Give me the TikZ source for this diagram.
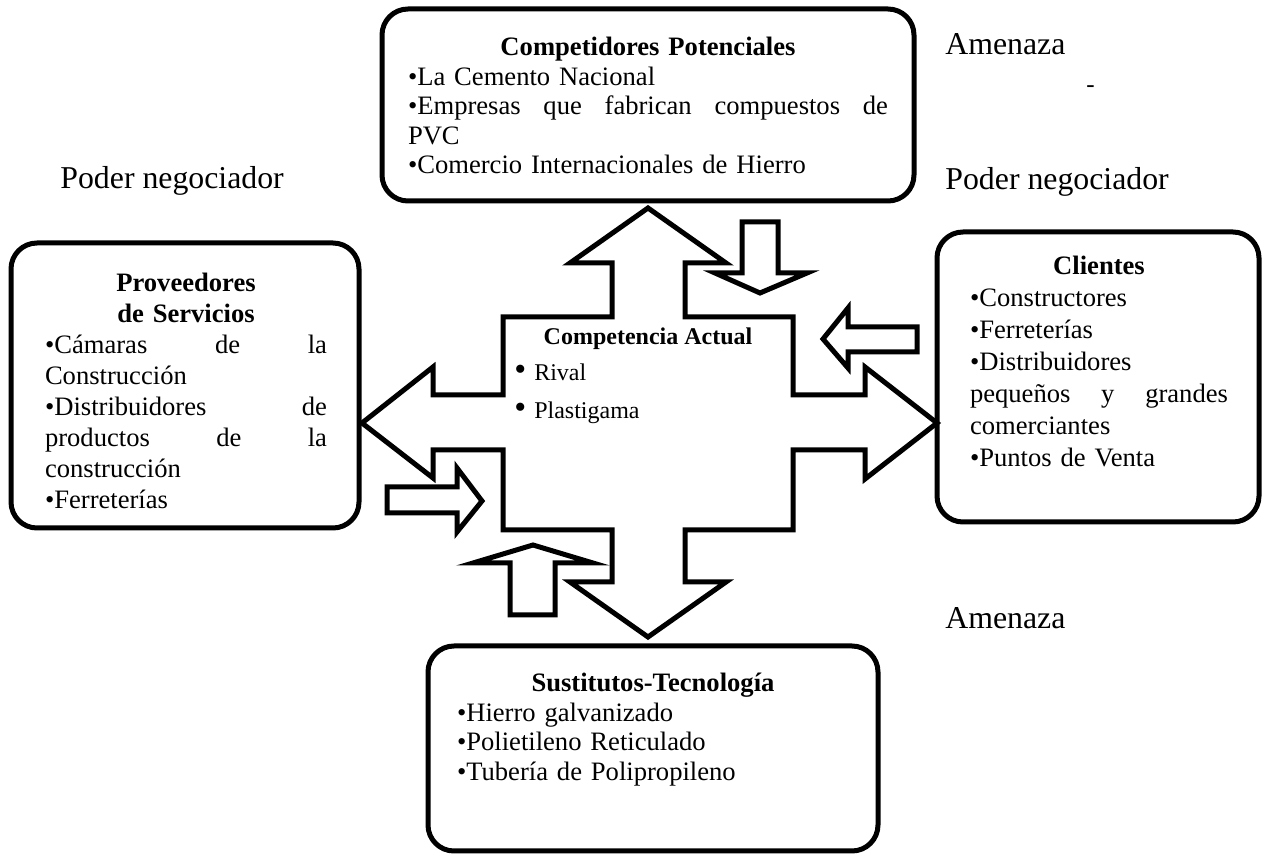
\documentclass[tikz,border=0pt]{standalone}
\usepackage{fontspec}
\setmainfont{Liberation Serif}
\newcommand{\titulo}[1]{\makebox[\linewidth]{\textbf{#1}}}
\newcommand{\justa}[1]{{\spaceskip=0pt\xspaceskip=0pt\makebox[\linewidth][s]{#1}}}
\begin{document}
\begin{tikzpicture}[x=0.5pt,y=-0.5pt]
\tikzstyle{caja}=[draw,line width=2.5pt,rounded corners=13pt,inner sep=0pt]
\tikzstyle{flecha}=[line width=2.5pt,line join=miter]
\tikzstyle{texto}=[inner sep=0pt,align=left,anchor=base,font=\fontsize{13.3}{14.75}\selectfont]
\tikzstyle{etiqueta}=[inner sep=0pt,anchor=base west,font=\fontsize{15.9}{18}\selectfont]
\tikzstyle{centro}=[inner sep=0pt,anchor=base west,font=\fontsize{12}{14}\selectfont]
\useasboundingbox (0,0) rectangle (1264,854);
% cajas de las cinco fuerzas
\node[caja,minimum width=266pt,minimum height=96pt] (potenciales) at (648,105) {};
\node[caja,minimum width=174pt,minimum height=142.5pt] (proveedores) at (185,385.5) {};
\node[caja,minimum width=161pt,minimum height=145pt] (clientes) at (1098,377) {};
\node[caja,minimum width=225pt,minimum height=102.5pt] (sustitutos) at (653,748.5) {};
\node[texto,text width=240pt] (potenciales-txt) at (648,56) {\titulo{Competidores Potenciales}\\
  •La Cemento Nacional\\
  \justa{•Empresas que fabrican compuestos de}\\
  PVC\\
  •Comercio Internacionales de Hierro};
\node[texto,text width=141pt,font=\fontsize{13.3}{15.5}\selectfont] (proveedores-txt) at (186,292) {\titulo{Proveedores}\\
  \titulo{de Servicios}\\
  \justa{•Cámaras de la}\\
  Construcción\\
  \justa{•Distribuidores de}\\
  \justa{productos de la}\\
  construcción\\
  •Ferreterías};
\node[texto,text width=129pt,font=\fontsize{13.3}{16}\selectfont] (clientes-txt) at (1099,275) {\titulo{Clientes}\\
  •Constructores\\
  •Ferreterías\\
  •Distribuidores\\
  \justa{pequeños y grandes}\\
  comerciantes\\
  •Puntos de Venta};
\node[texto,text width=196pt] (sustitutos-txt) at (653,692) {\titulo{Sustitutos-Tecnología}\\
  •Hierro galvanizado\\
  •Polietileno Reticulado\\
  •Tubería de Polipropileno};
% flecha en cruz
\draw[flecha] (648,208) -- (726,263) -- (685,263) -- (685,317) -- (793,317) -- (793,395)
  -- (865,395) -- (865,367) -- (937,423) -- (865,479) -- (865,450) -- (793,450)
  -- (793,530) -- (685,530) -- (685,582) -- (726,582) -- (648,637) -- (570,582)
  -- (612,582) -- (612,530) -- (503,530) -- (503,450) -- (433,450) -- (433,478)
  -- (362,423) -- (433,367) -- (433,395) -- (503,395) -- (503,317) -- (612,317)
  -- (612,263) -- (570,263) -- cycle;
\node[centro,anchor=base,font=\bfseries\fontsize{12}{14}\selectfont] (actual) at (648,345) {Competencia Actual};
\node[centro] (rival) at (514,381) {{\fontsize{17}{17}\selectfont•}\hspace{4pt}Rival};
\node[centro] (plastigama) at (514,419) {{\fontsize{17}{17}\selectfont•}\hspace{4pt}Plastigama};
% flechas chicas
\draw[flecha] (742,222) -- (778,222) -- (778,273) -- (807,273) -- (760,293) -- (715,273) -- (742,273) -- cycle;
\draw[flecha] (917,327) -- (917,352) -- (848,352) -- (848,368) -- (823,339) -- (848,308) -- (848,327) -- cycle;
\draw[flecha] (387,487) -- (457,487) -- (457,468) -- (482,501) -- (457,532) -- (457,513) -- (387,513) -- cycle;
\draw[flecha] (510,615) -- (510,563) -- (473,563) -- (533,545) -- (593,563) -- (555,563) -- (555,615) -- cycle;
% etiquetas
\node[etiqueta] (amenaza1) at (945,55) {Amenaza};
\node[centro,font=\fontsize{12.5}{15}\selectfont] (guion) at (1086,93) {-};
\node[etiqueta] (poder1) at (60,189) {Poder negociador};
\node[etiqueta] (poder2) at (945,190) {Poder negociador};
\node[etiqueta] (amenaza2) at (945,629) {Amenaza};
\end{tikzpicture}
\end{document}
